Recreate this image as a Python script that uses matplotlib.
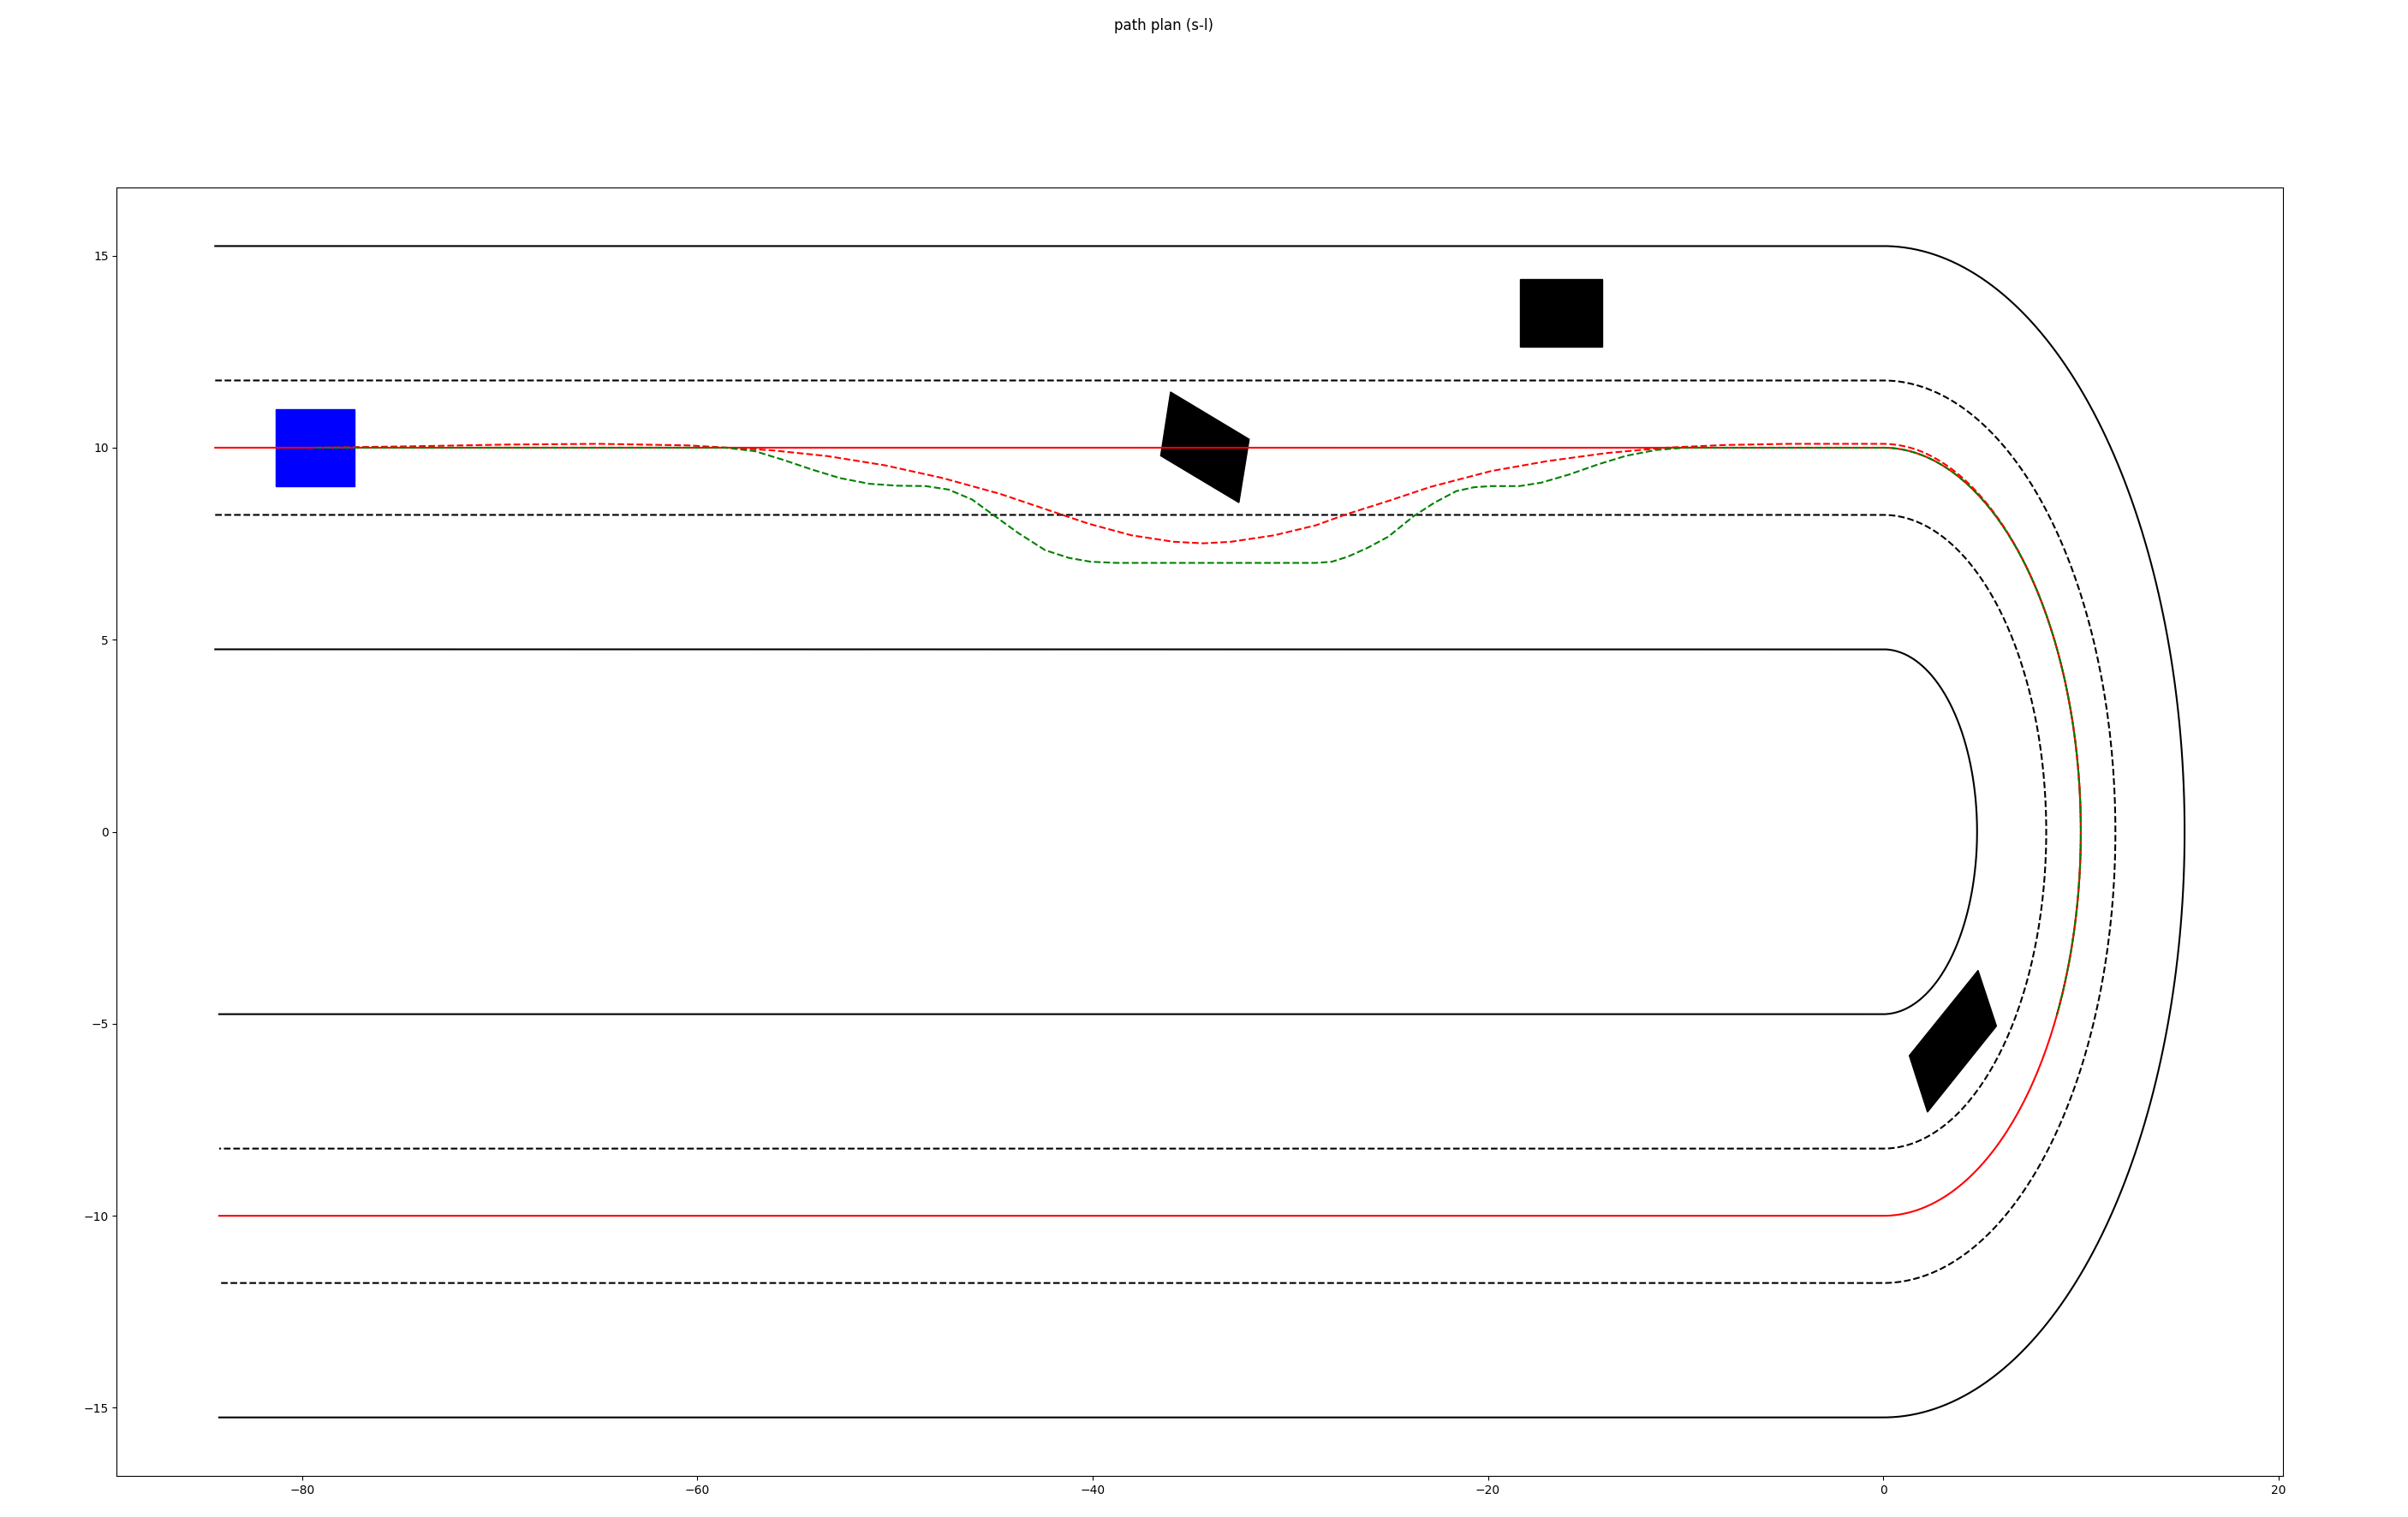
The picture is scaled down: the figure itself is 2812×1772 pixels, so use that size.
import numpy as np
import matplotlib
matplotlib.use("Agg")
import matplotlib.pyplot as plt

# reference line: top straight -> half circle -> bottom straight
ref_radius = 10.0
top_len = 84.4
bottom_len = 84.2

# road lines as lateral offsets (l) from the reference line
bound_l = [5.25, -5.25]
lane_l = [1.75, -1.75]

# planned paths in s-l
red_s = [5.05, 9.4, 14.4, 19.4, 23.9, 26.0, 28.2, 31.0, 33.9, 36.8, 39.7, 42.0,
         44.2, 46.35, 48.5, 50.0, 51.4, 53.6, 55.7, 57.2, 59.35, 61.5, 64.55,
         67.4, 70.4, 73.4, 76.4, 79.4, 84.4, 86.15, 87.9, 89.64, 91.38, 93.13, 105.08]
red_l = [0.0, 0.03, 0.08, 0.10, 0.06, 0.0, -0.07, -0.22, -0.46, -0.79, -1.20, -1.60,
         -1.98, -2.28, -2.45, -2.49, -2.45, -2.28, -2.02, -1.74, -1.39, -1.02, -0.61,
         -0.35, -0.14, 0.0, 0.07, 0.10, 0.10, 0.09, 0.06, 0.03, 0.01, 0.0, 0.0]

green_s = [5.05, 25.8, 27.3, 28.7, 30.2, 31.6, 33.1, 34.5, 35.95, 37.1, 38.3, 39.4,
           40.6, 42.0, 43.2, 44.3, 45.6, 55.7, 56.5, 57.3, 58.3, 59.35, 60.65, 61.7,
           62.8, 63.7, 64.55, 66.0, 67.1, 68.5, 70.0, 71.4, 72.9, 74.4, 105.08]
green_l = [0.0, 0.0, -0.09, -0.31, -0.57, -0.79, -0.94, -0.99, -1.0, -1.09, -1.35, -1.76,
           -2.21, -2.67, -2.87, -2.97, -3.0, -3.0, -2.97, -2.84, -2.61, -2.32, -1.78, -1.43,
           -1.13, -1.03, -1.0, -1.0, -0.91, -0.70, -0.43, -0.21, -0.06, 0.0, 0.0]

# vehicles (x, y corners)
ego_x = [-81.35, -77.35, -77.35, -81.35]
ego_y = [11.0, 11.0, 9.0, 9.0]
obs_x = [[-36.06, -32.08, -32.60, -36.56],
         [-18.4, -14.2, -14.2, -18.4],
         [4.80, 5.73, 2.24, 1.32]]
obs_y = [[11.45, 10.22, 8.57, 9.79],
         [14.38, 14.38, 12.62, 12.62],
         [-3.61, -5.06, -7.30, -5.83]]

arc_len = np.pi * ref_radius
total_len = top_len + arc_len + bottom_len


def sl_to_xy(s, l):
    s = np.asarray(s, float)
    l = np.asarray(l, float)
    x = np.empty_like(s)
    y = np.empty_like(s)
    top = s <= top_len
    bot = s > top_len + arc_len
    arc = ~top & ~bot
    x[top] = s[top] - top_len
    y[top] = ref_radius + l[top]
    phi = np.pi / 2 - (s[arc] - top_len) / ref_radius
    x[arc] = (ref_radius + l[arc]) * np.cos(phi)
    y[arc] = (ref_radius + l[arc]) * np.sin(phi)
    x[bot] = -(s[bot] - top_len - arc_len)
    y[bot] = -(ref_radius + l[bot])
    return x, y


def sl_line(s, l, step=0.2):
    # straight segments in the s-l frame, bent along the reference line
    ss, ll = [], []
    for i in range(len(s) - 1):
        n = max(2, int(np.ceil((s[i + 1] - s[i]) / step)))
        t = np.linspace(0, 1, n, endpoint=False)
        ss.append(s[i] + t * (s[i + 1] - s[i]))
        ll.append(l[i] + t * (l[i + 1] - l[i]))
    ss.append([s[-1]])
    ll.append([l[-1]])
    return sl_to_xy(np.concatenate(ss), np.concatenate(ll))


fig = plt.figure(figsize=(28.12, 17.72), dpi=100)
ax = fig.add_axes([136.3 / 2812, 47.9 / 1772, 2529.8 / 2812, 1505.1 / 1772])

for l in bound_l:
    ax.plot(*sl_line([0, total_len], [l, l]), color="black", lw=1.5)
for l in lane_l:
    ax.plot(*sl_line([0, total_len], [l, l]), color="black", ls="--", lw=1.5)
ax.plot(*sl_line([0, total_len], [0, 0]), color="red", lw=1.5)

ax.fill(ego_x, ego_y, color="blue")
for xs, ys in zip(obs_x, obs_y):
    ax.fill(xs, ys, color="black")

ax.plot(*sl_line(red_s, red_l), color="red", ls="--", lw=1.5)
ax.plot(*sl_line(green_s, green_l), color="green", ls="--", lw=1.5)

fig.text(0.4834, 0.988, "path plan (s-l)", ha="center", va="top", fontsize=12)

fig.savefig("out.png", dpi=100)
